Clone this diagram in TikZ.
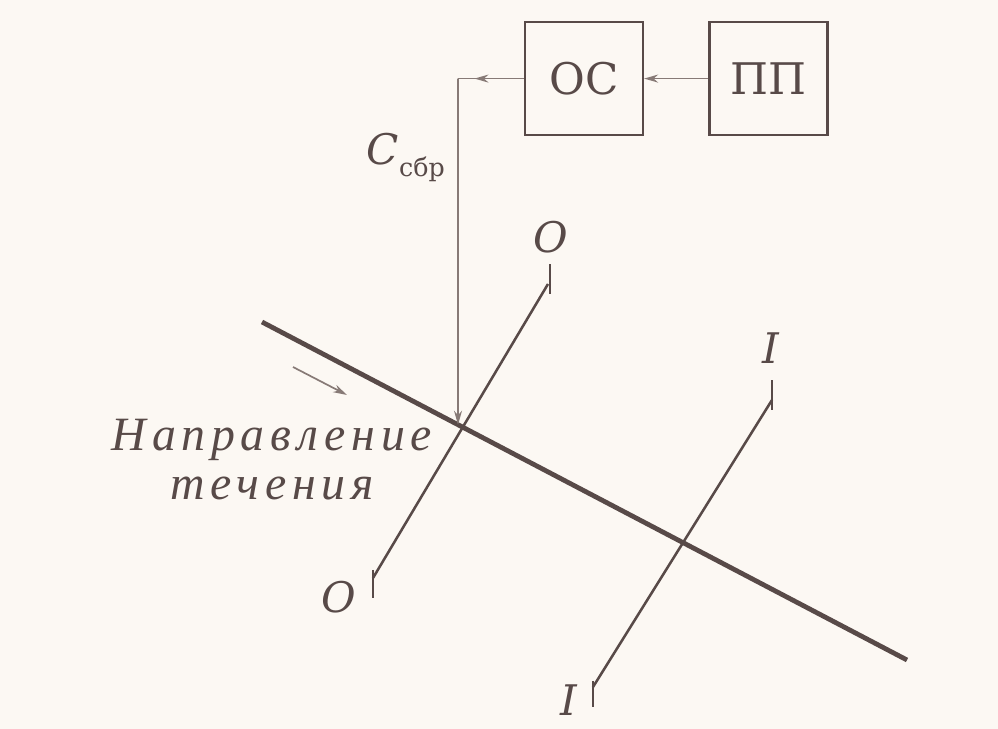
\documentclass[tikz,border=0pt]{standalone}
\usepackage{fontspec}
\setmainfont{DejaVu Serif}
\newfontfamily\flowfont[LetterSpace=12]{Liberation Serif}
\usetikzlibrary{arrows.meta, calc, decorations.markings}
\definecolor{paper}{RGB}{252,248,243}
\definecolor{ink}{RGB}{88,74,72}
\definecolor{inklight}{RGB}{135,122,118}

\begin{document}
\begin{tikzpicture}[
    block/.style={draw=ink, line width=1.6pt, minimum width=2.95cm, minimum height=2.825cm,
        inner sep=0pt, text=ink, font=\fontsize{31}{35}\selectfont},
    link/.style={draw=inklight, line width=1.2pt},
    tip/.style={-{Stealth[length=3.5mm, width=2mm]}},
    section/.style={draw=ink, line width=1.8pt},
    seclabel/.style={text=ink, font=\fontsize{30}{34}\selectfont\itshape},
]
    \fill[paper] (0,0) rectangle (24.95,18.225);
    \useasboundingbox (0,0) rectangle (24.95,18.225);
    % Blocks
    \node[block] (os) at (14.6,16.26) {ОС};
    \node[block] (pp) at (19.21,16.26) {ПП};
    % Flow boundary line
    \coordinate (m1) at (6.55,10.175);
    \coordinate (m2) at (22.675,1.725);
    \draw[ink, line width=3.4pt] (m1) -- (m2);
    % Sections O-O and I-I
    \coordinate (o1) at (9.325,3.775);
    \coordinate (o2) at (13.7,11.125);
    \coordinate (i1) at (14.825,1.05);
    \coordinate (i2) at (19.3,8.225);
    \draw[section] (o1) -- (o2);
    \draw[section] (i1) -- (i2);
    % End ticks of the sections
    \draw[section] ($(o2)+(0.05,-0.25)$) -- ++(0,0.75);
    \draw[section] ($(o1)+(0,0.2)$) -- ++(0,-0.7);
    \draw[section] ($(i2)+(0,-0.25)$) -- ++(0,0.75);
    \draw[section] ($(i1)+(0,0.15)$) -- ++(0,-0.65);
    \node[seclabel] (otop) at (13.775,12.3) {O};
    \node[seclabel] (obot) at (8.475,3.3) {O};
    \node[seclabel] (itop) at (19.275,9.525) {I};
    \node[seclabel] (ibot) at (14.225,0.725) {I};
    % Feedback from OC to the crossing
    \coordinate (corner) at (11.45,16.26);
    \coordinate (hit) at (intersection of corner--11.45,0 and m1--m2);
    \draw[link, tip] (pp.west) -- (os.east);
    \draw[link, postaction={decorate}, decoration={markings,
        mark=at position 0.75 with {\arrow{Stealth[length=3.5mm, width=2mm]}}}]
        (os.west) -- (corner);
    \draw[link, tip] (corner) -- (hit);
    \node[text=ink, font=\fontsize{30}{34}\selectfont, anchor=base west] (csbr) at (9.05,14.1)
        {\textit{C}\raisebox{-8pt}{\fontsize{18}{20}\selectfont сбр}};
    % Flow direction
    \coordinate (f1) at (7.325,9.05);
    \coordinate (f2) at (8.675,8.35);
    \draw[link, tip] (f1) -- (f2);
    \node[text=ink, align=center, font=\flowfont\fontsize{34}{35.5}\selectfont\itshape, anchor=base]
        (flowtext) at (6.8,5.725) {Направление\\течения};
\end{tikzpicture}
\end{document}
